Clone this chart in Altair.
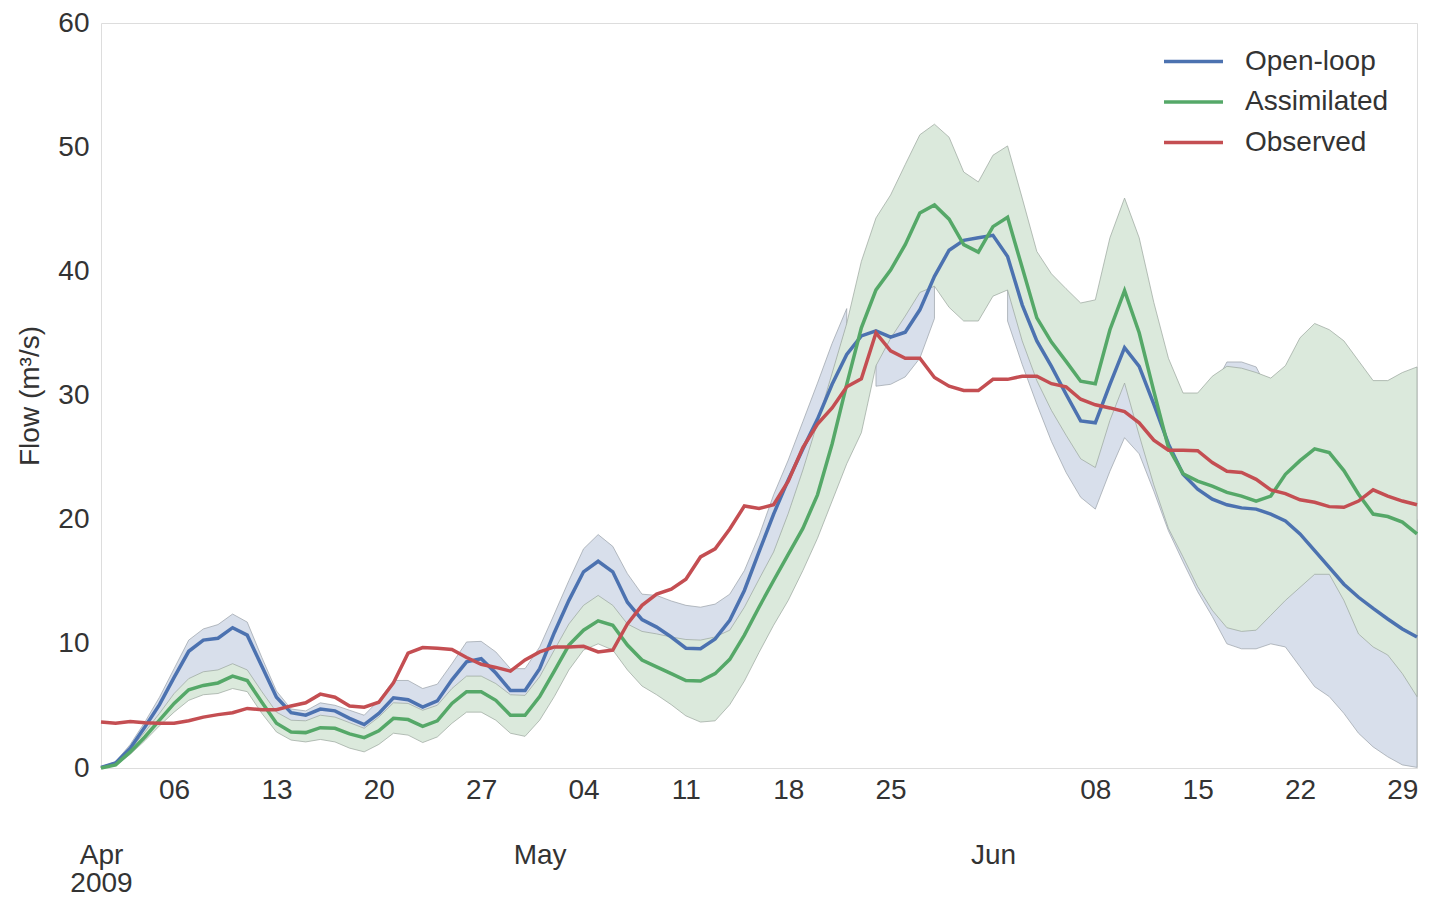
import altair as alt
import pandas as pd

# ---------------- data (daily, 1 Apr 2009 .. 30 Jun 2009) ----------------
start_date = "2009-04-01"
n_days = 91

observed = [3.7, 3.6, 3.75, 3.65, 3.6, 3.6, 3.8, 4.1, 4.3, 4.45,
            4.8, 4.7, 4.7, 5.0, 5.25, 5.95, 5.7, 5.0, 4.9, 5.3,
            6.85, 9.25, 9.7, 9.65, 9.55, 8.9, 8.35, 8.1, 7.8, 8.7,
            9.35, 9.75, 9.75, 9.8, 9.35, 9.5, 11.6, 13.1, 14.0, 14.4,
            15.2, 17.0, 17.65, 19.25, 21.1, 20.9, 21.2, 23.1, 25.8, 27.7,
            29.0, 30.7, 31.35, 35.05, 33.6, 33.0, 33.0, 31.45, 30.75, 30.4,
            30.4, 31.3, 31.3, 31.55, 31.55, 30.95, 30.7, 29.7, 29.25, 29.0,
            28.7, 27.8, 26.4, 25.6, 25.6, 25.55, 24.6, 23.9, 23.8, 23.25,
            22.4, 22.1, 21.6, 21.4, 21.05, 21.0, 21.5, 22.4, 21.9, 21.5,
            21.2]

open_loop = [0.05, 0.4, 1.6, 3.3, 5.1, 7.3, 9.4, 10.3, 10.45, 11.3,
             10.7, 8.2, 5.7, 4.45, 4.25, 4.75, 4.6, 4.0, 3.5, 4.4,
             5.65, 5.5, 4.9, 5.4, 7.1, 8.55, 8.8, 7.65, 6.25, 6.25,
             8.0, 10.9, 13.5, 15.8, 16.65, 15.8, 13.35, 11.95, 11.35, 10.55,
             9.65, 9.6, 10.4, 11.9, 14.3, 17.4, 20.45, 23.2, 25.7, 28.1,
             30.9, 33.3, 34.8, 35.2, 34.7, 35.1, 36.9, 39.6, 41.7, 42.5,
             42.7, 42.9, 41.2, 37.3, 34.4, 32.35, 30.1, 27.95, 27.8, 30.9,
             33.85, 32.35, 29.3, 26.1, 23.65, 22.45, 21.65, 21.2, 20.95, 20.85,
             20.45, 19.9, 18.85, 17.5, 16.15, 14.8, 13.75, 12.85, 12.0, 11.2,
             10.55]

assimilated = [0.0, 0.25, 1.3, 2.5, 3.85, 5.2, 6.3, 6.65, 6.85, 7.4,
               7.05, 5.3, 3.6, 2.9, 2.85, 3.25, 3.2, 2.75, 2.45, 3.0,
               4.0, 3.9, 3.35, 3.8, 5.2, 6.15, 6.15, 5.45, 4.25, 4.25,
               5.75, 7.8, 9.9, 11.1, 11.85, 11.5, 9.9, 8.7, 8.15, 7.6,
               7.05, 7.0, 7.6, 8.75, 10.7, 12.95, 15.1, 17.2, 19.3, 22.0,
               26.1, 30.9, 35.45, 38.5, 40.1, 42.15, 44.7, 45.35, 44.2, 42.15,
               41.55, 43.6, 44.35, 40.3, 36.25, 34.3, 32.75, 31.15, 30.95, 35.3,
               38.45, 35.05, 30.35, 25.8, 23.7, 23.1, 22.7, 22.2, 21.9, 21.5,
               21.9, 23.65, 24.75, 25.7, 25.4, 23.95, 22.05, 20.45, 20.25, 19.8,
               18.85]

# ensemble spread of the assimilated run
assim_hi = [0.05, 0.35, 1.5, 2.9, 4.4, 6.0, 7.2, 7.75, 7.9, 8.4,
            7.9, 6.15, 4.5, 3.85, 3.8, 4.25, 4.1, 3.65, 3.2, 4.1,
            5.25, 5.2, 4.65, 5.05, 6.4, 7.4, 7.4, 6.8, 5.9, 5.85,
            7.35, 9.5, 11.6, 13.1, 13.9, 13.1, 11.6, 11.0, 10.8, 10.55,
            10.35, 10.3, 10.55, 11.1, 12.95, 15.2, 17.4, 20.5, 24.0, 27.8,
            31.8, 35.8, 40.8, 44.3, 46.15, 48.6, 51.0, 51.85, 50.8, 48.0,
            47.2, 49.35, 50.1, 45.9, 41.6, 39.8, 38.6, 37.45, 37.7, 42.7,
            45.9, 42.7, 37.5, 33.0, 30.2, 30.2, 31.55, 32.35, 32.2, 31.85,
            31.4, 32.4, 34.65, 35.8, 35.3, 34.4, 32.8, 31.2, 31.2, 31.85,
            32.3]

assim_lo = [0.0, 0.2, 1.1, 2.2, 3.4, 4.5, 5.45, 5.9, 6.0, 6.4,
            6.15, 4.4, 2.9, 2.25, 2.1, 2.3, 2.1, 1.6, 1.3, 1.9,
            2.8, 2.65, 2.05, 2.5, 3.6, 4.5, 4.5, 3.85, 2.8, 2.55,
            3.85, 5.75, 7.9, 9.5, 10.0, 9.5, 7.9, 6.6, 5.9, 5.1,
            4.2, 3.7, 3.8, 5.1, 7.0, 9.3, 11.5, 13.5, 15.9, 18.5,
            21.5, 24.5, 27.0, 32.4, 34.6, 36.4, 38.3, 38.8, 37.1, 36.0,
            36.0, 38.0, 38.5, 34.4, 31.2, 28.8, 26.8, 24.9, 24.2, 28.0,
            31.0, 26.8, 22.8, 19.3, 17.0, 14.6, 12.7, 11.3, 11.0, 11.1,
            12.3, 13.5, 14.55, 15.6, 15.6, 13.5, 10.8, 9.75, 9.1, 7.6,
            5.75]

# ensemble spread of the open-loop run (None = not shown)
open_hi = [0.1, 0.5, 1.9, 3.7, 5.7, 8.0, 10.3, 11.2, 11.55, 12.4,
           11.75, 8.9, 6.2, 4.75, 4.6, 5.25, 5.05, 4.65, 4.25, 5.45,
           7.05, 7.05, 6.4, 6.75, 8.4, 10.15, 10.2, 9.35, 8.0, 8.0,
           9.75, 12.4, 15.1, 17.65, 18.8, 17.85, 15.65, 14.0, 13.9, 13.45,
           13.1, 12.95, 13.2, 14.0, 15.9, 18.7, 22.0, 24.8, 27.9, 31.0,
           34.2, 37.0, None, 36.5, 37.0, 38.0, 40.0, 42.0, None, None,
           None, None, 43.5, 40.5, 37.5, 35.0, 33.0, 31.0, 30.5, 34.0,
           37.0, 35.5, 32.5, 30.0, 28.5, 28.5, 30.5, 32.7, 32.7, 32.3,
           30.0, 29.0, 28.0, 27.0, 26.0, 25.0, 24.0, 23.0, 22.0, 21.0,
           20.0]

open_lo = [0.0, 0.3, 1.4, 2.8, 4.2, 5.8, 7.0, 7.6, 7.7, 8.2,
           7.7, 6.0, 4.3, 3.7, 3.6, 4.1, 4.0, 3.5, 3.1, 4.0,
           5.1, 5.0, 4.5, 4.9, 6.2, 7.2, 7.2, 6.6, 5.7, 5.7,
           7.2, 9.3, 11.4, 12.9, 13.7, 12.9, 11.4, 10.8, 10.6, 10.3,
           10.1, 10.1, 10.3, 10.9, 12.7, 15.0, 17.2, 20.3, 23.8, 27.6,
           31.6, 35.6, None, 30.75, 30.9, 31.5, 33.0, 36.2, None, None,
           None, None, 36.0, 32.5, 29.3, 26.3, 23.8, 21.8, 20.85, 23.9,
           26.6, 25.3, 22.3, 19.1, 16.6, 14.2, 12.2, 10.0, 9.6, 9.6,
           10.0, 9.75, 8.15, 6.55, 5.75, 4.4, 2.8, 1.7, 0.9, 0.25,
           0.05]

series_names = ["Open-loop", "Assimilated", "Observed"]
series_colors = ["#4c72b0", "#55a868", "#c44e52"]

# weekly tick labels (Mondays) and month labels
week_ticks = ["2009-04-06", "2009-04-13", "2009-04-20", "2009-04-27",
              "2009-05-04", "2009-05-11", "2009-05-18", "2009-05-25",
              "2009-06-08", "2009-06-15", "2009-06-22", "2009-06-29"]
month_ticks = ["2009-04-01", "2009-05-01", "2009-06-01"]
y_ticks = [0, 10, 20, 30, 40, 50, 60]

# ---------------- tables ----------------
dates = pd.date_range(start_date, periods=n_days, freq="D").strftime("%Y-%m-%d").tolist()

lines_df = pd.DataFrame({
    "date": dates * 3,
    "flow": open_loop + assimilated + observed,
    "series": [s for s in series_names for _ in range(n_days)],
})

assim_band = pd.DataFrame({"date": dates, "lo": assim_lo, "hi": assim_hi})

rows, seg, prev_ok = [], 0, False
for d, lo, hi in zip(dates, open_lo, open_hi):
    if lo is None or hi is None:
        if prev_ok:
            seg += 1
        prev_ok = False
        continue
    rows.append({"date": d, "lo": lo, "hi": hi, "seg": seg})
    prev_ok = True
open_band = pd.DataFrame(rows)


def dt(s):
    y, m, d = (int(v) for v in s.split("-"))
    return alt.DateTime(year=y, month=m, date=d, utc=True)


FONT = "Liberation Sans"
TXT = "#333333"
FS = 28

x_scale = alt.Scale(type="utc", domain=[dt("2009-04-01"), dt("2009-06-30")])

common_x = dict(labelFontSize=FS, labelColor=TXT, labelOverlap=False,
                labelFlush=False, labelBound=False, ticks=False, domain=False,
                grid=False, title=None, orient="bottom")

week_axis = alt.Axis(values=[dt(s) for s in week_ticks],
                     labelExpr="utcFormat(datum.value, '%d')",
                     labelPadding=8, **common_x)
month_axis = alt.Axis(values=[dt(s) for s in month_ticks],
                      labelExpr=("utcmonth(datum.value) == 3 ? ['Apr', '2009'] "
                                 ": utcFormat(datum.value, '%b')"),
                      labelPadding=73, labelLineHeight=28, **common_x)

x_week = alt.X("date:T", scale=x_scale, axis=week_axis)
x_month = alt.X("date:T", scale=x_scale, axis=month_axis)
x_plain = alt.X("date:T", scale=x_scale, axis=None)

y_axis = alt.Axis(values=y_ticks, labelFontSize=FS, labelColor=TXT, labelPadding=12,
                  ticks=False, domain=False, grid=False,
                  title="Flow (m³/s)", titleFontSize=FS, titleFontWeight="normal",
                  titleColor=TXT, titlePadding=13)
y_scale = alt.Scale(domain=[0, 60], nice=False, zero=False)

band_open = alt.Chart(open_band).mark_area(
    color="#d8dfeb", stroke="#9aa0a8", strokeWidth=0.7, opacity=1
).encode(
    x=x_month,
    y=alt.Y("hi:Q", scale=y_scale, axis=y_axis),
    y2="lo:Q",
    detail="seg:N",
)

band_assim = alt.Chart(assim_band).mark_area(
    color="#dbe9dc", stroke="#9aa59c", strokeWidth=0.7, opacity=1
).encode(
    x=x_week,
    y=alt.Y("hi:Q", scale=y_scale, axis=y_axis),
    y2="lo:Q",
)

color_enc = alt.Color(
    "series:N",
    scale=alt.Scale(domain=series_names, range=series_colors),
    sort=series_names,
    legend=alt.Legend(
        title=None, orient="none", legendX=1076, legendY=22,
        symbolType="M-2,0L2,0", symbolSize=870, symbolStrokeWidth=3.5,
        labelFontSize=FS, labelColor=TXT, labelOffset=35,
        rowPadding=9.5, padding=0, symbolOffset=0,
    ),
)

line_layers = []
for name in series_names:
    line_layers.append(
        alt.Chart(lines_df).transform_filter(alt.datum.series == name).mark_line(
            strokeWidth=3.5
        ).encode(
            x=x_plain,
            y=alt.Y("flow:Q", scale=y_scale, axis=y_axis),
            color=color_enc,
        )
    )

chart = alt.layer(band_open, band_assim, *line_layers).resolve_axis(
    x="independent"
).properties(
    width=1316, height=745,
    autosize="none",
    padding={"left": 93, "top": 15, "right": 5, "bottom": 135},
    background="white",
).configure_view(
    stroke="#cccccc", strokeWidth=1.25
).configure(
    font=FONT
)

chart.save("out.html", embed_options={"renderer": "svg", "actions": False})
